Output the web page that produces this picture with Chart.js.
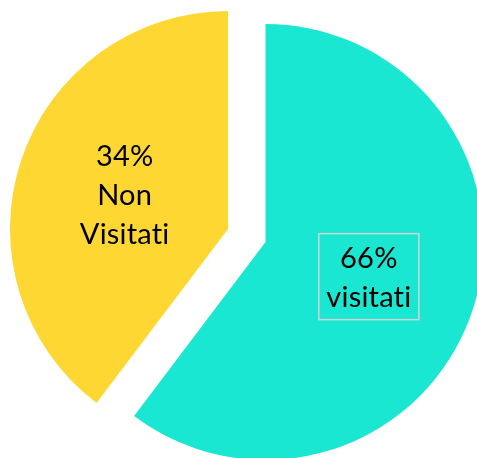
<!DOCTYPE html>
<html>
<head>
<meta charset="utf-8">
<script src="https://cdn.jsdelivr.net/npm/chart.js@4/dist/chart.umd.min.js"></script>
<style>
  html, body { margin: 0; padding: 0; background: #ffffff; }
  #wrap { position: relative; width: 477px; height: 458px; }
  .layer { position: absolute; left: 0; top: 0; width: 477px; height: 458px; }
</style>
</head>
<body>
<div id="wrap">
  <div class="layer"><canvas id="cTeal"></canvas></div>
  <div class="layer"><canvas id="cYellow"></canvas></div>
</div>
<script>
// Data
const categories = ['visitati', 'Non Visitati'];
const percentLabels = ['66%', '34%'];          // printed labels
const sliceShares = [60.3, 39.7];              // slice sizes as drawn
const sliceColors = ['#1AE7D1', '#FED733'];

function makeLabelPlugin(visibleIndex) {
  return {
    id: 'sliceLabels' + visibleIndex,
    afterDatasetsDraw(chart) {
      const ctx = chart.ctx;
      const arc = chart.getDatasetMeta(0).data[visibleIndex];
      const p = arc.getProps(['x', 'y', 'startAngle', 'endAngle', 'outerRadius']);
      const mid = (p.startAngle + p.endAngle) / 2;
      const dist = p.outerRadius / 2;
      const cx = p.x + Math.cos(mid) * dist;
      const cy = p.y + Math.sin(mid) * dist + 1;
      const lines = [percentLabels[visibleIndex]].concat(categories[visibleIndex].split(' '));
      const lh = 39;
      ctx.save();
      ctx.font = '29px Lato, "Open Sans", sans-serif';
      if ('letterSpacing' in ctx) ctx.letterSpacing = '0.2px';
      if ('textRendering' in ctx) ctx.textRendering = 'optimizeSpeed';
      ctx.fillStyle = '#000000';
      ctx.textAlign = 'center';
      ctx.textBaseline = 'middle';
      const y0 = cy - (lines.length - 1) * lh / 2;
      lines.forEach((t, k) => ctx.fillText(t, cx, y0 + k * lh));
      if (visibleIndex === 0) {
        ctx.strokeStyle = '#D4D4D4';
        ctx.lineWidth = 1.5;
        ctx.strokeRect(cx - 50, cy - 44, 100, 86);
      }
      ctx.restore();
    }
  };
}

function makeChart(canvasId, visibleIndex, padding) {
  const colors = sliceColors.map((c, i) => i === visibleIndex ? c : 'rgba(0,0,0,0)');
  return new Chart(document.getElementById(canvasId), {
    type: 'pie',
    data: {
      labels: categories,
      datasets: [{
        data: sliceShares,
        backgroundColor: colors,
        borderWidth: 0
      }]
    },
    options: {
      responsive: true,
      maintainAspectRatio: false,
      animation: false,
      radius: 218,
      layout: { padding: padding },
      plugins: { legend: { display: false }, tooltip: { enabled: false } }
    },
    plugins: [makeLabelPlugin(visibleIndex)]
  });
}

// teal slice centred at (265.5, 242); yellow (exploded) slice centred at (228, 229)
makeChart('cTeal', 0, { left: 54, top: 26, right: 0, bottom: 0 });
makeChart('cYellow', 1, { left: 0, top: 0, right: 21, bottom: 0 });
</script>
</body>
</html>
